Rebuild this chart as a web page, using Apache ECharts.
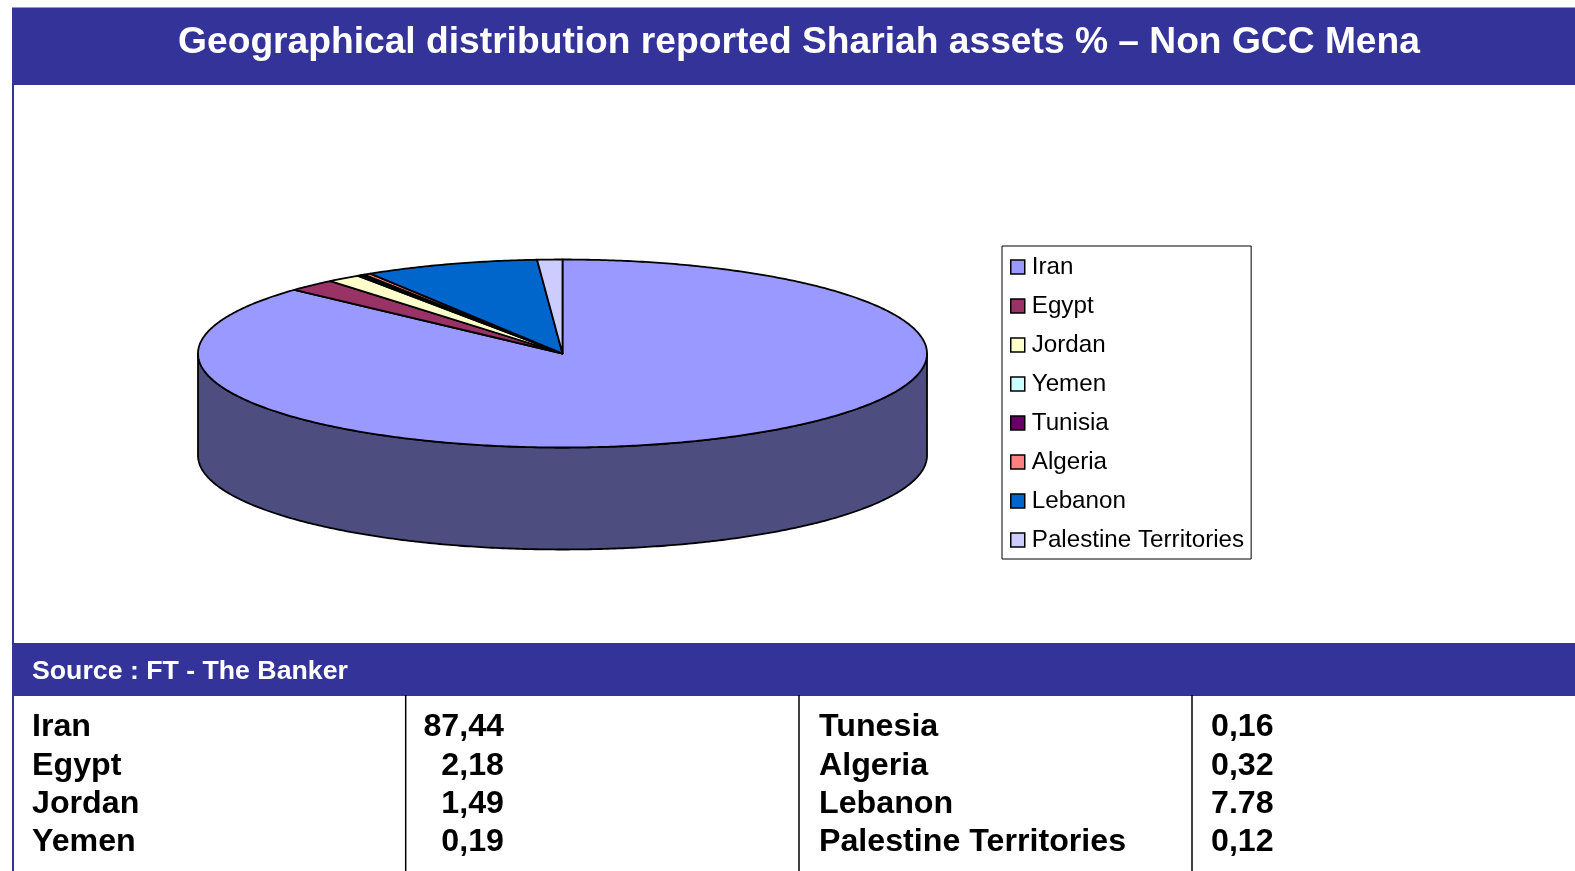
<!DOCTYPE html>
<html><head><meta charset="utf-8">
<style>html,body{margin:0;padding:0;background:#fff}#c{width:1575px;height:871px}</style>
<script src="https://cdn.jsdelivr.net/npm/echarts@6/dist/echarts.min.js"></script>
</head><body><div id="c"></div>
<script>
const titleText = 'Geographical distribution reported Shariah assets % – Non GCC Mena';
const sourceText = 'Source : FT - The Banker';
const categories = ['Iran','Egypt','Jordan','Yemen','Tunisia','Algeria','Lebanon','Palestine Territories'];
const pieValues = [87.44,2.18,1.49,0.19,0.16,0.32,7.78,1.12];
const sliceColors = ['#9999ff','#993366','#ffffcc','#ccffff','#660066','#ff8080','#0066cc','#ccccff'];
const wallColors = ['#4d4d80','#4d1a33','#808066','#668080','#330033','#804040','#003366','#666680'];
const tableLeftNames = ['Iran','Egypt','Jordan','Yemen'];
const tableLeftValues = ['87,44','2,18','1,49','0,19'];
const tableRightNames = ['Tunesia','Algeria','Lebanon','Palestine Territories'];
const tableRightValues = ['0,16','0,32','7.78','0,12'];

const band = '#333399';
const tableRowY = [727, 766, 804, 842];
const cx = 562.5, cy = 353.5, rx = 364.5, ry = 94, depth = 102;
const total = pieValues.reduce((a, b) => a + b, 0);
const toRad = v => v / total * Math.PI * 2;
const starts = [];
pieValues.reduce((a, v, i) => { starts[i] = a; return a + v; }, 0);

function arcPts(a0, a1, yc) {
  const pts = [], n = Math.max(2, Math.ceil((a1 - a0) / 0.01));
  for (let i = 0; i <= n; i++) {
    const a = a0 + (a1 - a0) * i / n;
    pts.push([cx + rx * Math.sin(a), yc - ry * Math.cos(a)]);
  }
  return pts;
}
function sliceItem(idx) {
  return function (params, api) {
    const a0 = toRad(starts[idx]);
    const a1 = a0 + toRad(api.value(0));
    const color = api.visual('color');
    const children = [];
    const w0 = Math.max(a0, Math.PI / 2), w1 = Math.min(a1, Math.PI * 3 / 2);
    if (w1 > w0) {
      const t = arcPts(w0, w1, cy), b = arcPts(w0, w1, cy + depth).reverse();
      children.push({ type: 'polygon', shape: { points: t.concat(b) },
        style: { fill: wallColors[idx], stroke: '#000', lineWidth: 1.8, lineJoin: 'round' } });
    }
    children.push({ type: 'polygon', shape: { points: [[cx, cy]].concat(arcPts(a0, a1, cy)) },
      style: { fill: color, stroke: '#000', lineWidth: 1.8, lineJoin: 'round' } });
    return { type: 'group', children };
  };
}
const txt = (x, y, text, align) => ({ type: 'text', x, y,
  style: { text, fill: '#000', font: 'bold 32.2px "Liberation Sans"', textAlign: align, textVerticalAlign: 'middle' } });
const vline = x => ({ type: 'line', shape: { x1: x, y1: 695, x2: x, y2: 871 }, style: { stroke: '#000', lineWidth: 1.5 } });

const graphics = [
  { type: 'rect', shape: { x: 12, y: 7.5, width: 1563, height: 77.5 }, style: { fill: band } },
  { type: 'rect', shape: { x: 12, y: 85, width: 2, height: 786 }, style: { fill: band } },
  { type: 'rect', shape: { x: 12, y: 643, width: 1563, height: 53 }, style: { fill: band } },
  vline(405.7), vline(799), vline(1192)
];
tableRowY.forEach((y, i) => {
  graphics.push(txt(32, y, tableLeftNames[i], 'left'), txt(504, y, tableLeftValues[i], 'right'),
    txt(819, y, tableRightNames[i], 'left'), txt(1211, y, tableRightValues[i], 'left'));
});

const chart = echarts.init(document.getElementById('c'), null, { renderer: 'canvas' });
chart.setOption({
  animation: false,
  backgroundColor: '#fff',
  color: sliceColors,
  title: [
    { text: titleText, left: 799, top: 20, textAlign: 'center', padding: 0,
      textStyle: { color: '#fff', fontFamily: 'Liberation Sans', fontWeight: 'bold', fontSize: 37.2, lineHeight: 46 } },
    { text: sourceText, left: 32, top: 657, padding: 0,
      textStyle: { color: '#fff', fontFamily: 'Liberation Sans', fontWeight: 'bold', fontSize: 26.7, lineHeight: 30 } }
  ],
  legend: {
    orient: 'vertical', left: 1002, top: 246, selectedMode: false,
    padding: [8, 7, 6, 8], itemGap: 13, itemWidth: 14, itemHeight: 14,
    borderColor: '#000', borderWidth: 1, backgroundColor: '#fff',
    icon: 'rect',
    itemStyle: { borderColor: '#000', borderWidth: 1.5 },
    textStyle: { color: '#000', fontFamily: 'Liberation Sans', fontSize: 24.2, lineHeight: 26, padding: [0, 0, 0, 2] },
    data: categories
  },
  graphic: graphics,
  series: categories.map((name, i) => ({
    type: 'custom', name, coordinateSystem: 'none', silent: true, clip: false,
    renderItem: sliceItem(i),
    encode: { value: 0 },
    data: [[pieValues[i]]]
  }))
});
</script></body></html>
